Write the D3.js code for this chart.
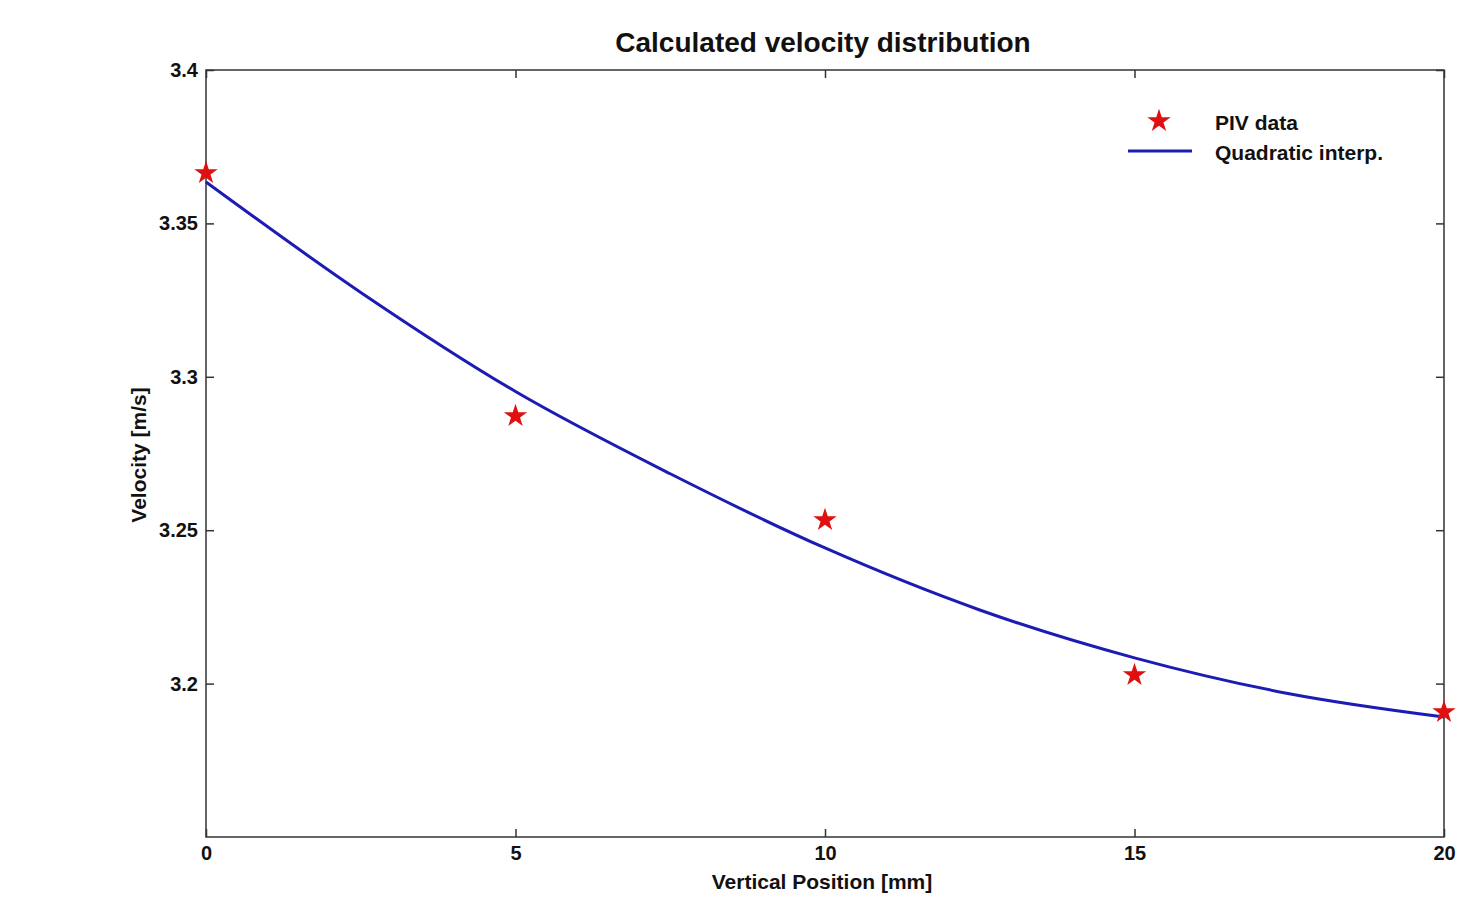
<!DOCTYPE html>
<html>
<head>
<meta charset="utf-8">
<script src="https://cdn.jsdelivr.net/npm/d3@7"></script>
<style>
body { margin: 0; background: #fff; }
text { font-family: "Liberation Sans", Arial, sans-serif; font-weight: bold; fill: #111; }
</style>
</head>
<body>
<div id="main_div"></div>
<script>
// PIV measurements
var piv_x = [0, 5, 10, 15, 20];
var piv_v = [3.3664, 3.2872, 3.2533, 3.2028, 3.1907];
// quadratic interpolation curve
var fit_x = [0, 2.5, 5, 7.5, 10, 12.5, 15, 17.5, 20];
var fit_v = [3.3635, 3.3275, 3.2952, 3.2684, 3.2442, 3.2240, 3.2084, 3.1967, 3.1891];
var x_ticks = [0, 5, 10, 15, 20];
var y_ticks = [3.2, 3.25, 3.3, 3.35, 3.4];
var legend_labels = ["PIV data", "Quadratic interp."];

var W = 1470, H = 899;
var x_scale = d3.scaleLinear().domain([0, 20]).range([206, 1444]);
var y_scale = d3.scaleLinear().domain([3.15, 3.4]).range([837, 70]);

var svg = d3.select("#main_div").append("svg").attr("width", W).attr("height", H);

// inward ticks on all four sides
var ax_b = svg.append("g").attr("transform", "translate(0,837)")
    .call(d3.axisBottom(x_scale).tickValues(x_ticks).tickSizeInner(-8).tickSizeOuter(0).tickPadding(9).tickFormat(d3.format("d")));
var ax_t = svg.append("g").attr("transform", "translate(0,70)")
    .call(d3.axisTop(x_scale).tickValues(x_ticks).tickSizeInner(-8).tickSizeOuter(0).tickFormat(""));
var ax_l = svg.append("g").attr("transform", "translate(206,0)")
    .call(d3.axisLeft(y_scale).tickValues(y_ticks).tickSizeInner(-8).tickSizeOuter(0).tickPadding(8).tickFormat(function(d) { return d3.format("")(d); }));
var ax_r = svg.append("g").attr("transform", "translate(1444,0)")
    .call(d3.axisRight(y_scale).tickValues(y_ticks).tickSizeInner(-8).tickSizeOuter(0).tickFormat(""));

svg.selectAll(".domain").remove();
svg.selectAll(".tick line").attr("stroke", "#333").attr("stroke-width", 1.5);
svg.selectAll(".tick text").attr("font-size", 20).attr("fill", "#111");

svg.append("rect").attr("x", 206).attr("y", 70).attr("width", 1444 - 206).attr("height", 837 - 70)
    .attr("fill", "none").attr("stroke", "#333").attr("stroke-width", 1.5);

// curve
var line = d3.line()
    .x(function(d, i) { return x_scale(fit_x[i]); })
    .y(function(d) { return y_scale(d); })
    .curve(d3.curveMonotoneX);
svg.append("path").datum(fit_v).attr("d", line)
    .attr("fill", "none").attr("stroke", "#1c1cb4").attr("stroke-width", 3);

// stars
var star = d3.symbol().type(d3.symbolStar).size(170);
svg.append("g").selectAll("path").data(piv_v).enter().append("path")
    .attr("d", star)
    .attr("transform", function(d, i) { return "translate(" + x_scale(piv_x[i]) + "," + y_scale(d) + ")"; })
    .attr("fill", "#e01010");

// title and labels
svg.append("text").attr("x", 823).attr("y", 52).attr("text-anchor", "middle")
    .attr("font-size", 28).text("Calculated velocity distribution");
svg.append("text").attr("x", 822).attr("y", 889).attr("text-anchor", "middle")
    .attr("font-size", 21).text("Vertical Position [mm]");
svg.append("text").attr("transform", "translate(146,455) rotate(-90)").attr("text-anchor", "middle")
    .attr("font-size", 21).text("Velocity [m/s]");

// legend
var lg = svg.append("g");
lg.append("path").attr("d", star).attr("transform", "translate(1159,121)").attr("fill", "#e01010");
lg.append("line").attr("x1", 1128).attr("x2", 1192).attr("y1", 151).attr("y2", 151)
    .attr("stroke", "#1c1cb4").attr("stroke-width", 3);
lg.selectAll("text").data(legend_labels).enter().append("text")
    .attr("x", 1215).attr("y", function(d, i) { return 130 + i * 30; })
    .attr("font-size", 21).text(function(d) { return d; });
</script>
</body>
</html>
